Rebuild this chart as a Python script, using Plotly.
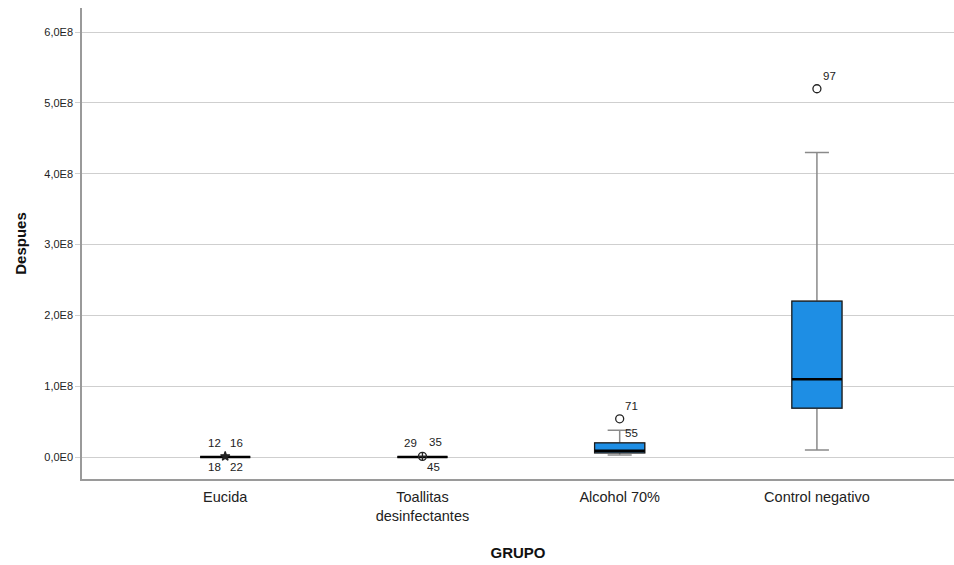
import plotly.graph_objects as go

# Groups and their box-plot statistics (Despues)
grupos = ["Eucida", "Toallitas<br>desinfectantes", "Alcohol 70%", "Control negativo"]
posiciones = [0, 1, 2, 3]
q1 = [0.0, 0.0, 0.06e8, 0.69e8]
mediana = [0.0, 0.0, 0.09e8, 1.10e8]
q3 = [0.0, 0.0, 0.20e8, 2.20e8]
bigote_inf = [0.0, 0.0, 0.03e8, 0.10e8]
bigote_sup = [0.0, 0.0, 0.38e8, 4.30e8]

# Outliers: group position, value, marker symbol
atip_pos = [0, 1, 2, 3]
atip_val = [0.01e8, 0.01e8, 0.54e8, 5.20e8]
atip_simbolo = ["star", "circle-cross-open", "circle-open", "circle-open"]

# Case-number labels: group position, value, text, pixel offsets
etiq_pos = [0, 0, 0, 0, 1, 1, 1, 2, 2, 3]
etiq_val = [0.01e8, 0.01e8, 0.01e8, 0.01e8, 0.01e8, 0.01e8, 0.01e8, 0.54e8, 0.38e8, 5.20e8]
etiq_txt = ["12", "16", "18", "22", "29", "35", "45", "71", "55", "97"]
etiq_dx = [-11, 11, -11, 11, -12, 13, 11, 12, 12, 13]
etiq_dy = [13, 13, -11, -11, 13, 14, -11, 13, -3, 13]

# Axis ticks
y_ticks = [0, 1e8, 2e8, 3e8, 4e8, 5e8, 6e8]
y_ticktext = ["0,0E0", "1,0E8", "2,0E8", "3,0E8", "4,0E8", "5,0E8", "6,0E8"]

ANCHO = 0.254
AZUL = "#1E8EE4"

fig = go.Figure()

# Whiskers (grey)
fig.add_trace(go.Box(
    x=posiciones, q1=q1, median=mediana, q3=q3,
    lowerfence=bigote_inf, upperfence=bigote_sup,
    width=ANCHO, whiskerwidth=0.48, boxpoints=False,
    fillcolor=AZUL, line=dict(color="#8a8a8a", width=1.5),
    hoverinfo="skip", showlegend=False,
))
# Box bodies (dark outline)
fig.add_trace(go.Box(
    x=posiciones, q1=q1, median=mediana, q3=q3,
    lowerfence=q1, upperfence=q3,
    width=ANCHO, whiskerwidth=0, boxpoints=False,
    fillcolor=AZUL, line=dict(color="#1a1a1a", width=1.2),
    hoverinfo="skip", showlegend=False,
))

# Thick median lines
mx, my = [], []
for p, m in zip(posiciones, mediana):
    mx += [p - ANCHO / 2, p + ANCHO / 2, None]
    my += [m, m, None]
fig.add_trace(go.Scatter(
    x=mx, y=my, mode="lines", line=dict(color="#000000", width=2.5),
    hoverinfo="skip", showlegend=False,
))

# Outlier markers
for p, v, s in zip(atip_pos, atip_val, atip_simbolo):
    fig.add_trace(go.Scatter(
        x=[p], y=[v], mode="markers",
        marker=dict(symbol=s, size=8 if s != "star" else 7, color="#222222",
                    line=dict(color="#222222", width=1.3)),
        hoverinfo="skip", showlegend=False,
    ))

# Case labels
for p, v, t, dx, dy in zip(etiq_pos, etiq_val, etiq_txt, etiq_dx, etiq_dy):
    fig.add_annotation(
        x=p, y=v, text=t, showarrow=False, xshift=dx, yshift=dy,
        font=dict(family="Liberation Sans, Arial", size=11.5, color="#222222"),
    )

fig.update_layout(
    width=954, height=565,
    margin=dict(l=82, r=0, t=8, b=86),
    paper_bgcolor="white", plot_bgcolor="white",
    font=dict(family="Liberation Sans, Arial", color="#222222"),
    xaxis=dict(
        range=[-0.726, 3.695], tickvals=posiciones, ticktext=grupos,
        showgrid=False, zeroline=False, showline=True,
        linecolor="#9a9a9a", linewidth=1.5, ticks="",
        ticklabelstandoff=4,
        tickfont=dict(size=14.5, color="#222222"),
        title=dict(text="<b>GRUPO</b>", font=dict(size=15, color="#111111"), standoff=24),
    ),
    yaxis=dict(
        range=[-0.31e8, 6.34e8], tickvals=y_ticks, ticktext=y_ticktext,
        showgrid=True, gridcolor="#cfcfcf", gridwidth=1, zeroline=False,
        showline=True, linecolor="#9a9a9a", linewidth=1.5,
        ticks="outside", ticklen=5, tickcolor="#cfcfcf",
        tickfont=dict(size=11, color="#222222"),
        title=dict(text="<b>Despues</b>", font=dict(size=15, color="#111111"), standoff=14),
    ),
)

fig.write_html("out.html")
